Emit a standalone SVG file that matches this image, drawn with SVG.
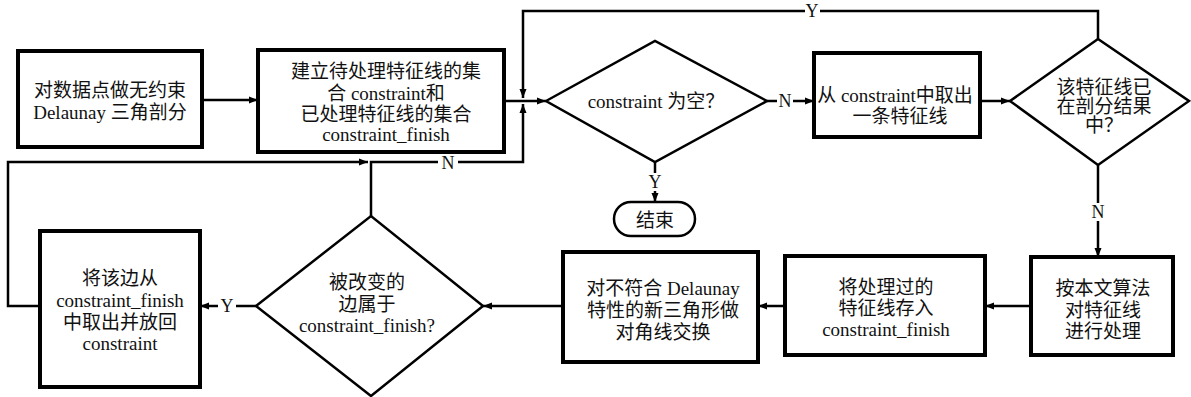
<svg xmlns="http://www.w3.org/2000/svg" width="1191" height="397" viewBox="0 0 1191 397">
<defs>
<marker id="arr" markerUnits="userSpaceOnUse" markerWidth="10" markerHeight="8" refX="9" refY="4" orient="auto">
<path d="M0,0.5 L9,4 L0,7.5 Z" fill="#000"/>
</marker>
<style>
.box{fill:#fff;stroke:#000;stroke-width:4}
.dia{fill:#fff;stroke:#000;stroke-width:2.5}
.term{fill:#fff;stroke:#000;stroke-width:2.5}
.con{fill:none;stroke:#000;stroke-width:2.5}
.arrow{marker-end:url(#arr)}
text{font-family:"Liberation Serif","Noto Sans CJK SC",serif;font-size:19px;fill:#111;text-anchor:middle;dominant-baseline:central}
.lbl{font-size:18px}
.lblbg{fill:#fff}
</style>
</defs>
<rect width="1191" height="397" fill="#fff"/>

<g id="connectors">
<path class="con arrow" d="M202,100 H258"/>
<path class="con arrow" d="M504,101 H546"/>
<path class="con arrow" d="M1098,39 V11 H523 V98"/>
<path class="con arrow" d="M371,216 V162 H523 V104"/>
<path class="con arrow" d="M40,306 H8 V162 H368"/>
<path class="con arrow" d="M767,101 H814"/>
<path class="con arrow" d="M980,101 H1010"/>
<path class="con arrow" d="M1098,165 V257"/>
<path class="con arrow" d="M1031,306 H985"/>
<path class="con arrow" d="M785,306 H758"/>
<path class="con arrow" d="M563,306 H483"/>
<path class="con arrow" d="M256,306 H200"/>
<path class="con arrow" d="M655,162 V202"/>
<g id="labels">
<rect class="lblbg" x="805" y="2" width="15" height="18"/>
<text class="lbl" x="812" y="11">Y</text>
<rect class="lblbg" x="777" y="92" width="16" height="18"/>
<text class="lbl" x="785" y="101">N</text>
<rect class="lblbg" x="438" y="153" width="20" height="18"/>
<text class="lbl" x="448" y="163">N</text>
<rect class="lblbg" x="647" y="173" width="16" height="18"/>
<text class="lbl" x="655" y="182">Y</text>
<rect class="lblbg" x="1090" y="203" width="16" height="18"/>
<text class="lbl" x="1098" y="212">N</text>
<rect class="lblbg" x="218" y="297" width="18" height="18"/>
<text class="lbl" x="227" y="306">Y</text>
</g>
</g>

<g id="n1">
<rect class="box" x="18" y="51" width="184" height="96"/>
<text x="110" y="90">对数据点做无约束</text>
<text x="110" y="112">Delaunay 三角剖分</text>
</g>

<g id="n2">
<rect class="box" x="258" y="50" width="246" height="102"/>
<text x="386" y="71">建立待处理特征线的集</text>
<text x="386" y="93">合 constraint和</text>
<text x="386" y="114">已处理特征线的集合</text>
<text x="386" y="134">constraint_finish</text>
</g>

<g id="n3">
<polygon class="dia" points="546,101 655,41 767,101 655,162"/>
<text x="656" y="101">constraint 为空？</text>
</g>

<g id="n4">
<rect class="box" x="814" y="53" width="166" height="84"/>
<text x="895" y="95">从 constraint中取出</text>
<text x="900" y="116">一条特征线</text>
</g>

<g id="n5">
<polygon class="dia" points="1010,101 1098,39 1189,101 1098,165"/>
<text x="1104" y="87">该特征线已</text>
<text x="1104" y="106">在剖分结果</text>
<text x="1104" y="125">中？</text>
</g>

<g id="n6">
<rect class="term" x="614" y="202" width="81" height="34" rx="17" ry="17"/>
<text x="655" y="220">结束</text>
</g>

<g id="n7">
<rect class="box" x="1031" y="257" width="142" height="98"/>
<text x="1103" y="288">按本文算法</text>
<text x="1103" y="310">对特征线</text>
<text x="1103" y="331">进行处理</text>
</g>

<g id="n8">
<rect class="box" x="785" y="256" width="200" height="99"/>
<text x="886" y="287">将处理过的</text>
<text x="886" y="308">特征线存入</text>
<text x="886" y="329">constraint_finish</text>
</g>

<g id="n9">
<rect class="box" x="563" y="252" width="195" height="110"/>
<text x="663" y="288">对不符合 Delaunay</text>
<text x="663" y="310">特性的新三角形做</text>
<text x="663" y="332">对角线交换</text>
</g>

<g id="n10">
<polygon class="dia" points="256,306 371,216 483,306 371,396"/>
<text x="367" y="282">被改变的</text>
<text x="367" y="304">边属于</text>
<text x="367" y="325">constraint_finish?</text>
</g>

<g id="n11">
<rect class="box" x="40" y="231" width="160" height="156"/>
<text x="120" y="278">将该边从</text>
<text x="120" y="300">constraint_finish</text>
<text x="120" y="322">中取出并放回</text>
<text x="120" y="343">constraint</text>
</g>
</svg>
